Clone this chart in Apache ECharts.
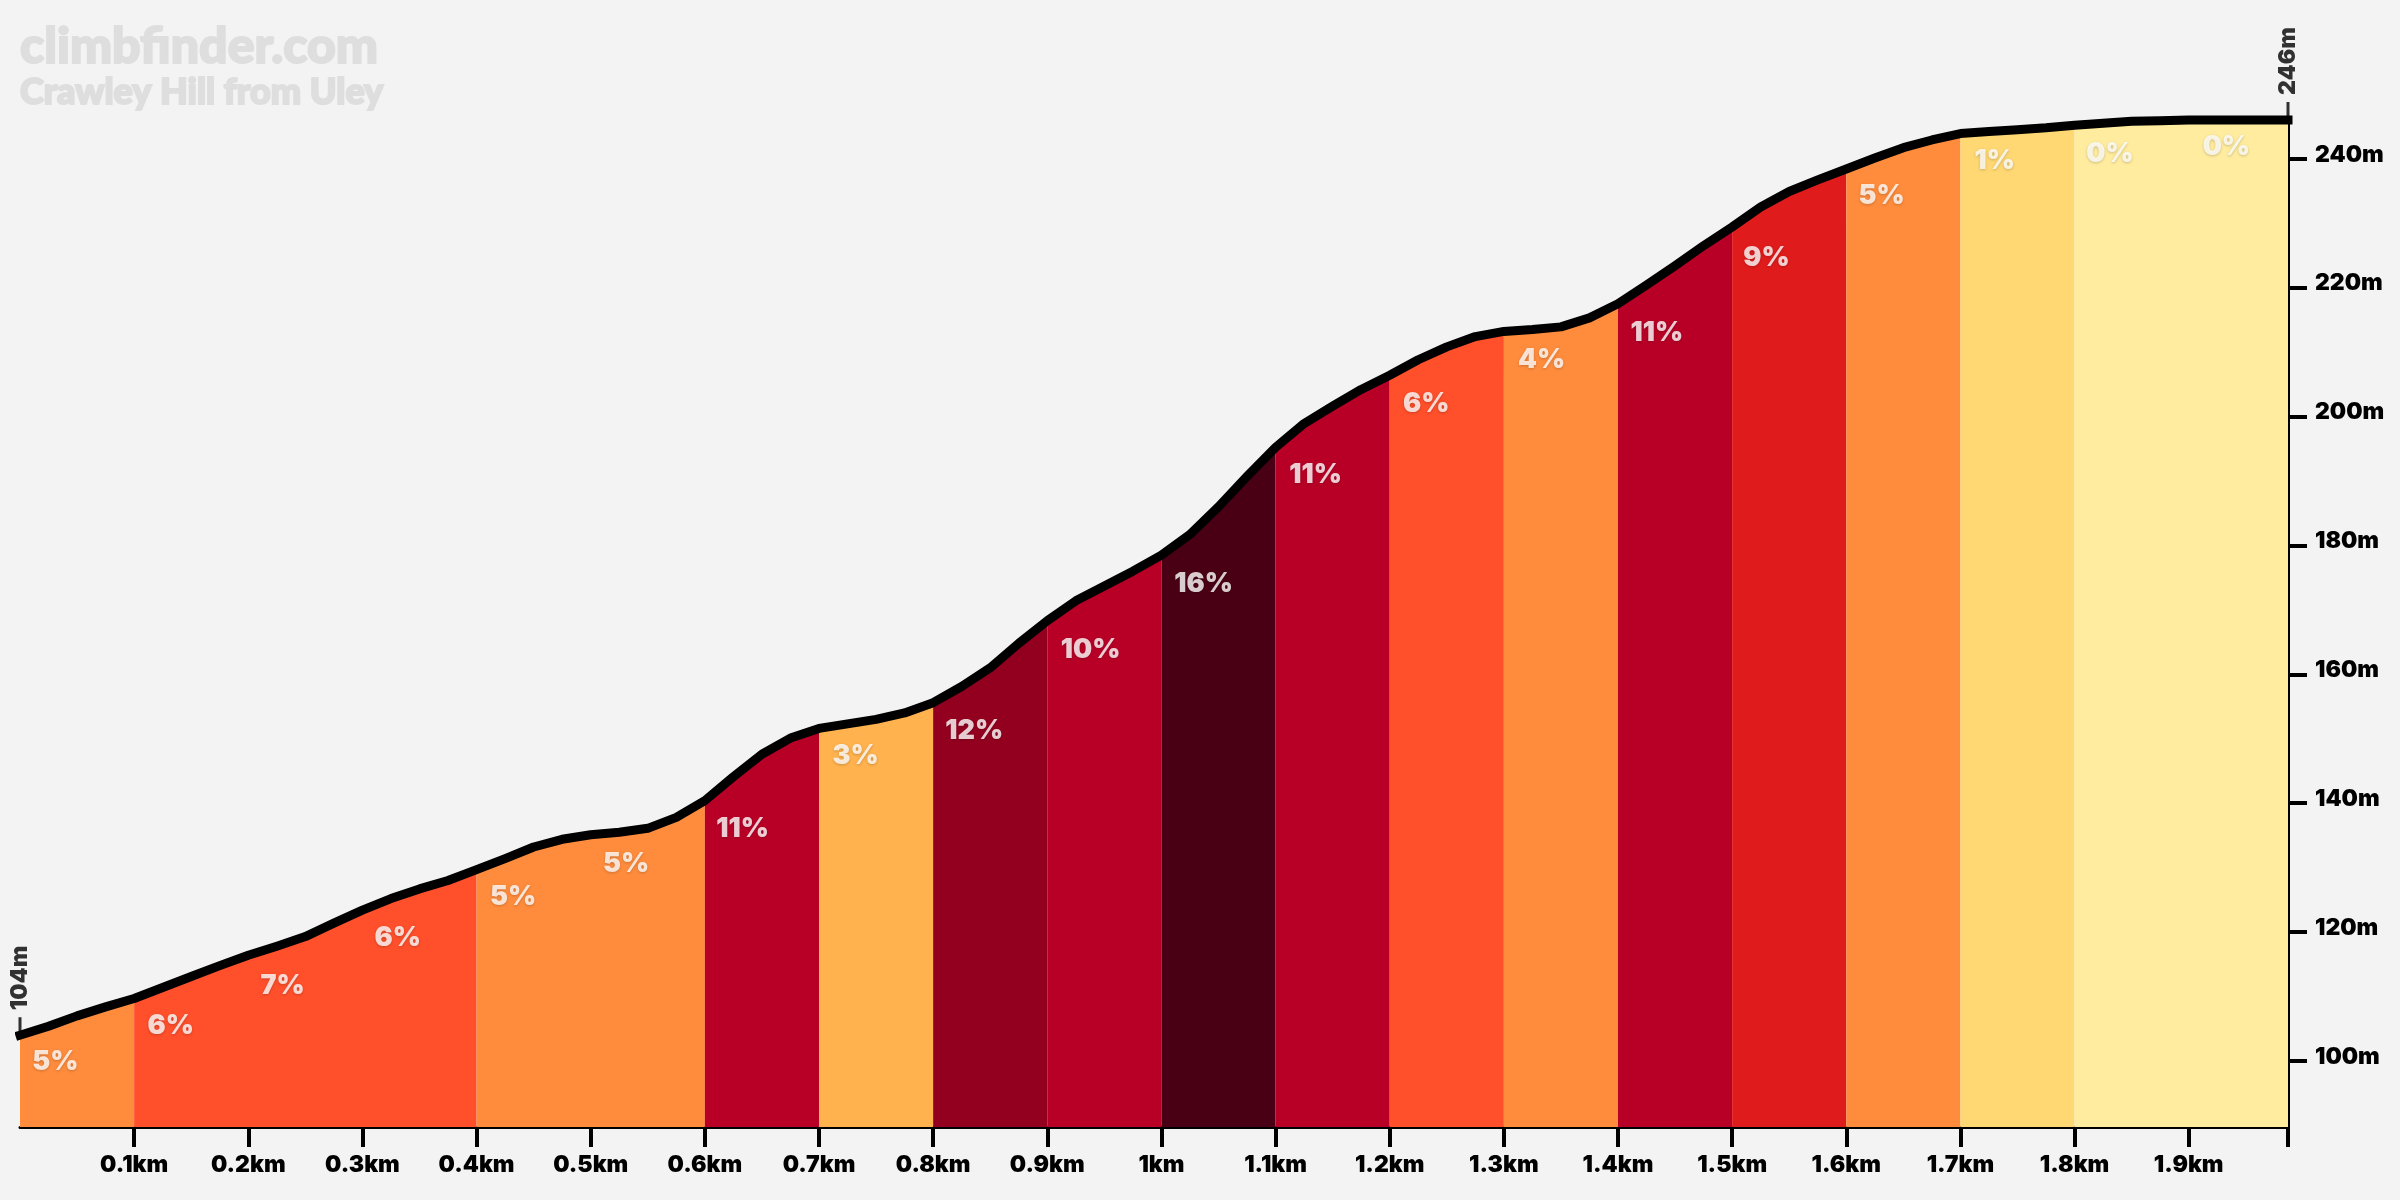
<!DOCTYPE html>
<html>
<head>
<meta charset="utf-8">
<style>html,body{margin:0;height:100%;background:#f3f3f3}#chart{width:2400px;height:1200px}</style>
<script src="https://cdn.jsdelivr.net/npm/echarts@6/dist/echarts.min.js"></script>
</head>
<body>
<div id="chart"></div>
<script>
// distance along the climb (km) and elevation (m)
var distanceKm = [0, 0.025, 0.05, 0.075, 0.1, 0.125, 0.15, 0.175, 0.2, 0.225, 0.25, 0.275, 0.3, 0.325, 0.35, 0.375,
    0.4, 0.425, 0.45, 0.475, 0.5, 0.525, 0.55, 0.575, 0.6, 0.625, 0.65, 0.675, 0.7, 0.725, 0.75, 0.775,
    0.8, 0.825, 0.85, 0.875, 0.9, 0.925, 0.95, 0.975, 1, 1.025, 1.05, 1.075, 1.1, 1.125, 1.15, 1.175,
    1.2, 1.225, 1.25, 1.275, 1.3, 1.325, 1.35, 1.375, 1.4, 1.425, 1.45, 1.475, 1.5, 1.525, 1.55, 1.575,
    1.6, 1.625, 1.65, 1.675, 1.7, 1.725, 1.75, 1.775, 1.8, 1.825, 1.85, 1.875, 1.9, 1.925, 1.95, 1.975, 1.987];
var elevation = [104, 105.4, 107, 108.4, 109.7, 111.4, 113.1, 114.8, 116.4, 117.8, 119.3, 121.4, 123.4, 125.2, 126.7, 128,
    129.7, 131.4, 133.2, 134.4, 135.1, 135.5, 136.1, 137.8, 140.4, 144.1, 147.6, 150.1, 151.6, 152.3, 153, 154,
    155.6, 158.1, 161, 164.8, 168.3, 171.4, 173.7, 176, 178.5, 181.7, 186, 190.7, 195.2, 198.9, 201.6, 204.2,
    206.4, 208.8, 210.8, 212.4, 213.2, 213.5, 213.9, 215.3, 217.5, 220.4, 223.4, 226.5, 229.4, 232.5, 234.9, 236.7,
    238.4, 240.1, 241.7, 242.9, 243.9, 244.2, 244.5, 244.8, 245.2, 245.5, 245.8, 245.9, 246, 246, 246, 246, 246];

// one entry per coloured stretch
var segmentStart = [0, 0.1, 0.4, 0.6, 0.7, 0.8, 0.9, 1, 1.1, 1.2, 1.3, 1.4, 1.5, 1.6, 1.7, 1.8];
var segmentEnd = [0.1, 0.4, 0.6, 0.7, 0.8, 0.9, 1, 1.1, 1.2, 1.3, 1.4, 1.5, 1.6, 1.7, 1.8, 1.987];
var segmentColor = ['#ff8c3c', '#ff4f2b', '#ff8c3c', '#b80026', '#ffb24d', '#93001f', '#b80026',
    '#4a0014', '#b80026', '#ff4f2b', '#ff8c3c', '#b80026', '#e01b1c', '#ff8c3c', '#ffd873', '#ffec9e'];

var gradeText = ['5%', '6%', '7%', '6%', '5%', '5%', '11%', '3%', '12%', '10%', '16%', '11%', '6%', '4%', '11%', '9%', '5%', '1%', '0%', '0%'];
var gradeKm = [0.031, 0.132, 0.230, 0.331, 0.432, 0.531, 0.633, 0.732, 0.836, 0.938, 1.037, 1.135, 1.232, 1.333, 1.434, 1.530, 1.631, 1.730, 1.831, 1.933];
var gradeElev = [99.9, 105.5, 111.7, 119.1, 125.5, 130.6, 136, 147.4, 151.2, 163.8, 174.1, 191, 202, 208.8, 213, 224.6, 234.3, 239.7, 240.8, 241.9];

var xTicks = [0.1, 0.2, 0.3, 0.4, 0.5, 0.6, 0.7, 0.8, 0.9, 1, 1.1, 1.2, 1.3, 1.4, 1.5, 1.6, 1.7, 1.8, 1.9];
var yTicks = [100, 120, 140, 160, 180, 200, 220, 240];

var labelFont = 'Inter';
var points = distanceKm.map(function (d, i) { return [d, elevation[i]]; });

var series = segmentStart.map(function (start, i) {
    return {
        type: 'line',
        symbol: 'none',
        silent: true,
        lineStyle: { width: 0 },
        itemStyle: { color: segmentColor[i] },
        areaStyle: { color: segmentColor[i], opacity: 1, origin: 'start' },
        data: points.filter(function (p) { return p[0] >= start && p[0] <= segmentEnd[i]; })
    };
});

series.push({
    type: 'line',
    symbol: 'none',
    clip: false,
    z: 5,
    lineStyle: { color: '#000', width: 9, cap: 'square', join: 'round' },
    data: points
});

// percentage labels
series.push({
    type: 'scatter',
    symbolSize: 0,
    z: 6,
    label: {
        show: true,
        position: 'inside',
        color: '#fff',
        fontFamily: labelFont,
        fontWeight: 900,
        fontSize: 27,
        textShadowColor: 'rgba(0,0,0,0.25)',
        textShadowBlur: 3,
        textShadowOffsetY: 1,
        formatter: function (p) { return gradeText[p.dataIndex]; }
    },
    data: gradeKm.map(function (d, i) { return [d, gradeElev[i]]; })
});

// start and finish height markers
series.push({
    type: 'scatter',
    symbol: 'rect',
    symbolSize: [3, 16],
    symbolOffset: [0, -10],
    clip: false,
    z: 4,
    itemStyle: { color: '#000' },
    label: {
        show: true,
        position: 'top',
        distance: 7,
        rotate: 90,
        align: 'left',
        verticalAlign: 'middle',
        color: '#000',
        fontFamily: labelFont,
        fontWeight: 900,
        fontSize: 23,
        formatter: function (p) { return Math.round(p.value[1]) + 'm'; }
    },
    data: [[distanceKm[0], elevation[0]], [distanceKm[distanceKm.length - 1], elevation[elevation.length - 1]]]
});

var myChart = echarts.init(document.getElementById('chart'));
myChart.setOption({
    animation: false,
    backgroundColor: '#f3f3f3',
    title: {
        text: 'climbfinder.com',
        subtext: 'Crawley Hill from Uley',
        left: 20,
        top: 22,
        itemGap: 0,
        padding: 0,
        textStyle: { color: '#dedede', fontFamily: 'Lato', fontWeight: 900, fontSize: 50, textBorderColor: '#dedede', textBorderWidth: 2 },
        subtextStyle: { color: '#dedede', fontFamily: 'Lato', fontWeight: 900, fontSize: 36, textBorderColor: '#dedede', textBorderWidth: 2 }
    },
    grid: { left: 20, right: 112, top: 120, bottom: 73 },
    xAxis: {
        type: 'value',
        min: 0,
        max: 1.987,
        splitLine: { show: false },
        axisLine: { show: true, onZero: false, lineStyle: { color: '#000', width: 3 } },
        axisTick: { show: true, length: 20, customValues: xTicks.concat([1.987]), lineStyle: { color: '#000', width: 4 } },
        axisLabel: {
            show: true,
            customValues: xTicks,
            margin: 27,
            color: '#000',
            fontFamily: labelFont,
            fontWeight: 900,
            fontSize: 23,
            formatter: function (v) { return v + 'km'; }
        }
    },
    yAxis: {
        type: 'value',
        position: 'right',
        min: 89.76,
        max: 246,
        splitLine: { show: false },
        axisLine: { show: true, onZero: false, lineStyle: { color: '#000', width: 3 } },
        axisTick: { show: true, length: 19, customValues: yTicks, lineStyle: { color: '#000', width: 4 } },
        axisLabel: {
            show: true,
            customValues: yTicks,
            margin: 27,
            verticalAlign: 'bottom',
            lineHeight: 8,
            color: '#000',
            fontFamily: labelFont,
            fontWeight: 900,
            fontSize: 23,
            formatter: function (v) { return v + 'm'; }
        }
    },
    series: series
});
</script>
</body>
</html>
